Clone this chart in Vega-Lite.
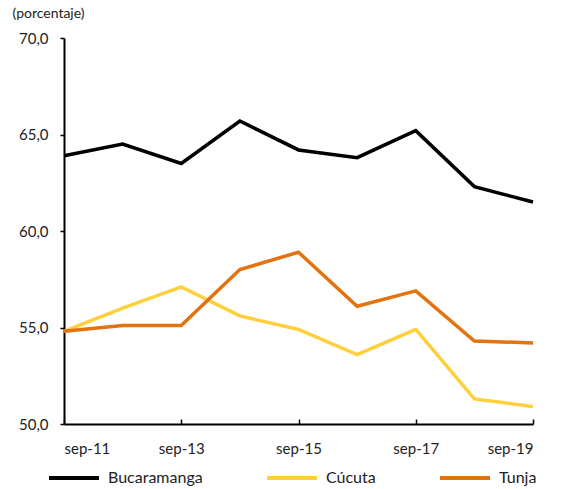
{
  "$schema": "https://vega.github.io/schema/vega-lite/v6.json",
  "autosize": {"type": "none"},
  "width": 469,
  "height": 386,
  "padding": {"left": 64, "top": 38, "right": 28, "bottom": 65},
  "background": "white",
  "config": {
    "view": {"stroke": null},
    "font": "Lato",
    "axis": {"grid": false, "domainColor": "black", "tickColor": "black", "labelColor": "#222", "labelFont": "Lato", "labelFontSize": 15}
  },
  "data": {
    "values": [
      {"year": 2011, "city": "Bucaramanga", "value": 63.9},
      {"year": 2012, "city": "Bucaramanga", "value": 64.5},
      {"year": 2013, "city": "Bucaramanga", "value": 63.5},
      {"year": 2014, "city": "Bucaramanga", "value": 65.7},
      {"year": 2015, "city": "Bucaramanga", "value": 64.2},
      {"year": 2016, "city": "Bucaramanga", "value": 63.8},
      {"year": 2017, "city": "Bucaramanga", "value": 65.2},
      {"year": 2018, "city": "Bucaramanga", "value": 62.3},
      {"year": 2019, "city": "Bucaramanga", "value": 61.5},
      {"year": 2011, "city": "Cúcuta", "value": 54.8},
      {"year": 2012, "city": "Cúcuta", "value": 56.0},
      {"year": 2013, "city": "Cúcuta", "value": 57.1},
      {"year": 2014, "city": "Cúcuta", "value": 55.6},
      {"year": 2015, "city": "Cúcuta", "value": 54.9},
      {"year": 2016, "city": "Cúcuta", "value": 53.6},
      {"year": 2017, "city": "Cúcuta", "value": 54.9},
      {"year": 2018, "city": "Cúcuta", "value": 51.3},
      {"year": 2019, "city": "Cúcuta", "value": 50.9},
      {"year": 2011, "city": "Tunja", "value": 54.8},
      {"year": 2012, "city": "Tunja", "value": 55.1},
      {"year": 2013, "city": "Tunja", "value": 55.1},
      {"year": 2014, "city": "Tunja", "value": 58.0},
      {"year": 2015, "city": "Tunja", "value": 58.9},
      {"year": 2016, "city": "Tunja", "value": 56.1},
      {"year": 2017, "city": "Tunja", "value": 56.9},
      {"year": 2018, "city": "Tunja", "value": 54.3},
      {"year": 2019, "city": "Tunja", "value": 54.2}
    ]
  },
  "mark": {"type": "line", "strokeWidth": 3.5, "strokeJoin": "miter", "clip": false},
  "encoding": {
    "x": {
      "field": "year",
      "type": "quantitative",
      "scale": {"domain": [2011, 2019], "nice": false, "zero": false},
      "axis": {
        "title": null,
        "values": [2011, 2013, 2015, 2017, 2019],
        "labelExpr": "'sep-' + slice(toString(datum.value), 2)",
        "tickSize": -5,
        "domainWidth": 2,
        "tickWidth": 1.5,
        "labelPadding": 22
      }
    },
    "y": {
      "field": "value",
      "type": "quantitative",
      "scale": {"domain": [50, 70], "nice": false, "zero": false},
      "axis": {
        "values": [50, 55, 60, 65, 70],
        "labelExpr": "replace(format(datum.value, '.1f'), '.', ',')",
        "tickSize": 4,
        "domainWidth": 2,
        "tickWidth": 1.5,
        "labelPadding": 12,
        "title": "(porcentaje)",
        "titleAngle": 0,
        "titleAlign": "left",
        "titleBaseline": "alphabetic",
        "titleX": -52,
        "titleY": -21,
        "titleFont": "Lato",
        "titleFontSize": 14,
        "titleFontWeight": "normal",
        "titleColor": "#222"
      }
    },
    "color": {
      "field": "city",
      "type": "nominal",
      "scale": {"domain": ["Bucaramanga", "Cúcuta", "Tunja"], "range": ["#000000", "#FFD03C", "#E3730F"]},
      "legend": {
        "title": null,
        "orient": "none",
        "legendX": -17,
        "legendY": 413,
        "direction": "horizontal",
        "symbolType": "stroke",
        "symbolSize": 2500,
        "symbolStrokeWidth": 4,
        "labelFontSize": 16,
        "labelFont": "Lato",
        "labelColor": "#222",
        "labelOffset": 7,
        "columnPadding": 56
      }
    }
  }
}
